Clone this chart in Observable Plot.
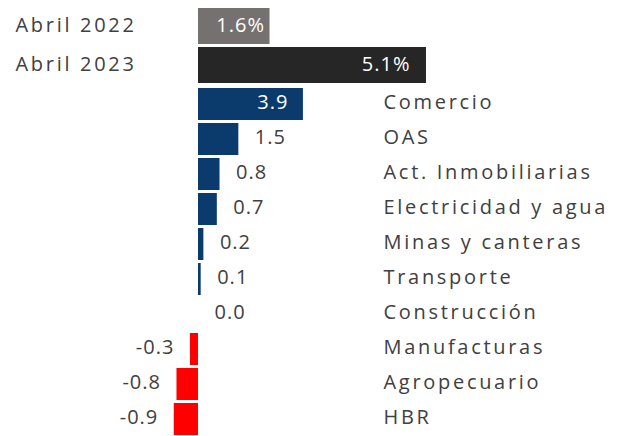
<!DOCTYPE html>
<html>
<head>
<meta charset="utf-8">
<script src="https://cdn.jsdelivr.net/npm/d3@7"></script>
<script src="https://cdn.jsdelivr.net/npm/@observablehq/plot@0.6"></script>
<style>
  html, body { margin: 0; padding: 0; background: #fff; }
  #wrap { position: relative; width: 627px; height: 436px; overflow: hidden; background: #fff; }
  #top, #bottom { position: absolute; left: 0; }
  #top { top: 0; }
  #bottom { top: 83px; }
  svg { overflow: visible; }
</style>
</head>
<body>
<div id="wrap"><div id="bottom"></div><div id="top"></div></div>
<script>
// Totals (growth rate, %)
const totalCats = ["Abril 2022", "Abril 2023"];
const totalValues = [1.6, 5.1];
const totalColors = ["#767171", "#262626"];

// Sector contributions
const sectorCats = ["Comercio", "OAS", "Act. Inmobiliarias", "Electricidad y agua", "Minas y canteras", "Transporte", "Construcción", "Manufacturas", "Agropecuario", "HBR"];
const sectorValues = [3.9, 1.5, 0.8, 0.7, 0.2, 0.1, 0.0, -0.3, -0.8, -0.9];

const FONT = "'Open Sans', sans-serif";
const TEXT = "#404040";
const BLUE = "#0b3b6c";
const RED = "#ff0000";

const totals = totalCats.map((c, i) => ({cat: c, v: totalValues[i], color: totalColors[i]}));
const sectors = sectorCats.map((c, i) => ({cat: c, v: sectorValues[i]}));

const fmtPct = d => d.v.toFixed(1) + "%";
const fmt = d => d.v.toFixed(1);

function spacing(plot) {
  const cats = new Set([...totalCats, ...sectorCats]);
  d3.select(plot).selectAll("text").each(function() {
    this.style.letterSpacing = cats.has(this.textContent) ? "2.7px" : "1px";
  });
  return plot;
}

const topPlot = Plot.plot({
  width: 627, height: 86,
  marginTop: 5, marginBottom: 0, marginLeft: 15, marginRight: 0,
  style: {background: "transparent", fontFamily: FONT, fontSize: "20px", color: TEXT},
  x: {domain: [-4.094, 9.597], axis: null},
  y: {domain: totalCats, padding: 0.074, axis: null},
  marks: [
    Plot.barX(totals, {x: "v", y: "cat", fill: d => d.color}),
    Plot.text(totals, {y: "cat", text: "cat", frameAnchor: "left", textAnchor: "start", fill: TEXT, fontSize: 20, dy: -1}),
    Plot.text(totals.filter((d, i) => i === 0), {x: "v", y: "cat", text: fmtPct, textAnchor: "end", dx: -5, dy: -1, fill: "white", fontSize: 20}),
    Plot.text(totals.filter((d, i) => i === 1), {x: "v", y: "cat", text: fmtPct, textAnchor: "end", dx: -16, dy: -1, fill: "white", fontSize: 20})
  ]
});
document.getElementById("top").appendChild(spacing(topPlot));

const bottomPlot = Plot.plot({
  width: 627, height: 358,
  marginTop: 0, marginBottom: 0, marginLeft: 0, marginRight: 244,
  style: {background: "transparent", fontFamily: FONT, fontSize: "20px", color: TEXT},
  x: {domain: [-7.36, 6.877], axis: null},
  y: {domain: sectorCats, padding: 0.08, axis: null},
  marks: [
    Plot.barX(sectors, {x: "v", y: "cat", fill: d => d.v < 0 ? RED : BLUE}),
    Plot.text(sectors, {y: "cat", text: "cat", frameAnchor: "right", textAnchor: "start", fill: TEXT, fontSize: 20, dy: -1.5}),
    Plot.text(sectors.filter((d, i) => i === 0), {x: "v", y: "cat", text: fmt, textAnchor: "end", dx: -15, dy: -1.5, fill: "white", fontSize: 20}),
    Plot.text(sectors.filter((d, i) => i > 0 && d.v >= 0), {x: "v", y: "cat", text: fmt, textAnchor: "start", dx: 16, dy: -1.5, fill: TEXT, fontSize: 20}),
    Plot.text(sectors.filter(d => d.v < 0), {x: "v", y: "cat", text: fmt, textAnchor: "end", dx: -16, dy: -1.5, fill: TEXT, fontSize: 20})
  ]
});
document.getElementById("bottom").appendChild(spacing(bottomPlot));
</script>
</body>
</html>
